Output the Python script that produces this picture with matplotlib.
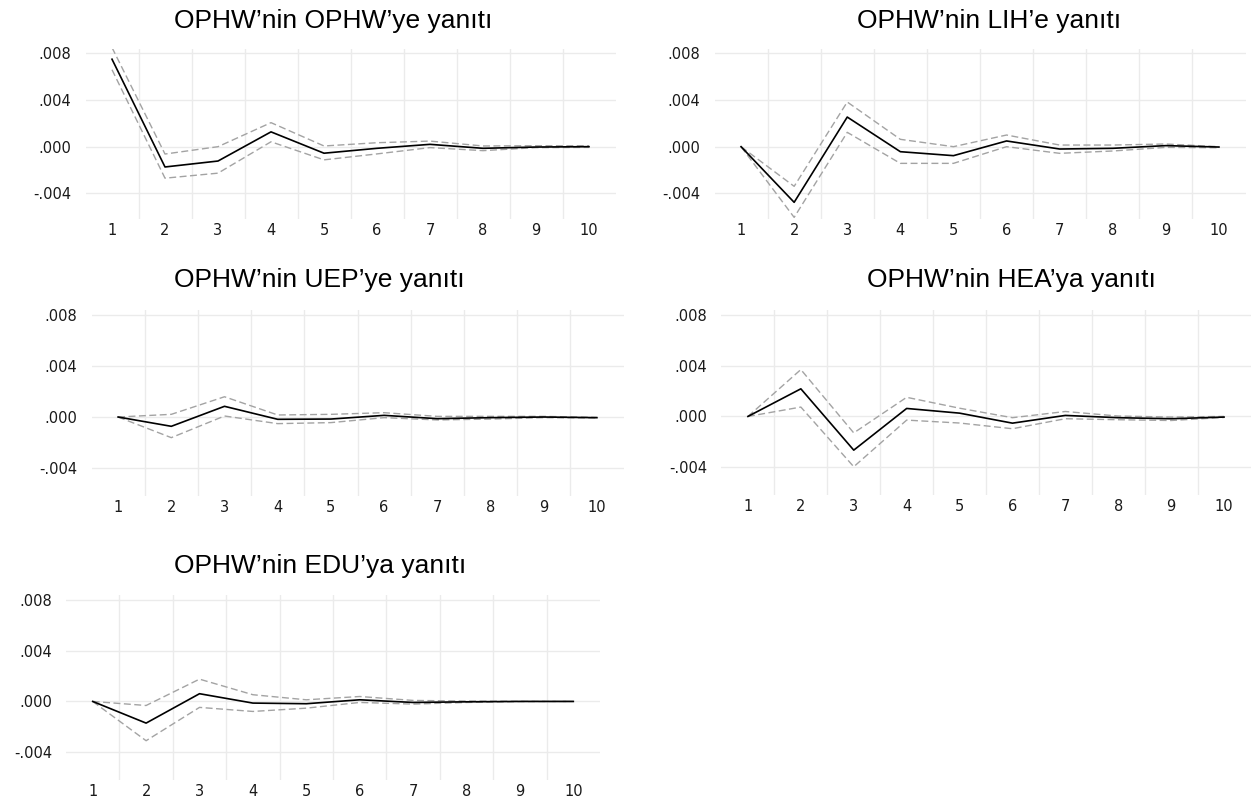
import numpy as np
import matplotlib
matplotlib.use("Agg")
import matplotlib.pyplot as plt

# Impulse-response horizons
periods = [1, 2, 3, 4, 5, 6, 7, 8, 9, 10]

titles = [
    "OPHW\u2019nin OPHW\u2019ye yan\u0131t\u0131",
    "OPHW\u2019nin LIH\u2019e yan\u0131t\u0131",
    "OPHW\u2019nin UEP\u2019ye yan\u0131t\u0131",
    "OPHW\u2019nin HEA\u2019ya yan\u0131t\u0131",
    "OPHW\u2019nin EDU\u2019ya yan\u0131t\u0131",
]

# Responses (point estimate, upper and lower bands)
irf_ophw = [0.0075, -0.00174, -0.00123, 0.00127, -0.00056, -0.00014, 0.00020, -0.00014, -0.00003, 0.00000]
up_ophw = [0.0085, -0.00063, 0.00000, 0.00206, 0.00006, 0.00034, 0.00048, 0.00006, 0.00008, 0.00008]
lo_ophw = [0.0066, -0.00270, -0.00227, 0.00042, -0.00113, -0.00062, -0.00008, -0.00034, -0.00008, -0.00006]

irf_lih = [0.0, -0.00477, 0.00254, -0.00043, -0.00077, 0.00049, -0.00020, -0.00014, 0.00009, -0.00003]
up_lih = [0.0, -0.00340, 0.00383, 0.00063, 0.00000, 0.00100, 0.00014, 0.00014, 0.00023, 0.00000]
lo_lih = [0.0, -0.00606, 0.00123, -0.00143, -0.00143, 0.00000, -0.00057, -0.00037, -0.00006, -0.00009]

irf_uep = [0.0, -0.00073, 0.00084, -0.00018, -0.00016, 0.00013, -0.00013, -0.00005, 0.00000, -0.00005]
up_uep = [0.0, 0.00021, 0.00159, 0.00016, 0.00021, 0.00034, 0.00005, 0.00005, 0.00005, -0.00003]
lo_uep = [0.0, -0.00162, 0.00008, -0.00052, -0.00044, -0.00005, -0.00023, -0.00016, -0.00005, -0.00008]

irf_hea = [0.0, 0.00218, -0.00266, 0.00063, 0.00026, -0.00053, 0.00008, -0.00010, -0.00018, -0.00005]
up_hea = [0.0, 0.00370, -0.00130, 0.00151, 0.00065, -0.00010, 0.00039, 0.00003, -0.00005, 0.00000]
lo_hea = [0.0, 0.00074, -0.00397, -0.00029, -0.00052, -0.00097, -0.00018, -0.00026, -0.00032, -0.00008]

irf_edu = [0.0, -0.00171, 0.00061, -0.00013, -0.00018, 0.00013, -0.00008, -0.00003, 0.00000, 0.00000]
up_edu = [0.0, -0.00032, 0.00176, 0.00053, 0.00013, 0.00039, 0.00008, 0.00003, 0.00001, 0.00000]
lo_edu = [0.0, -0.00310, -0.00047, -0.00079, -0.00053, -0.00008, -0.00021, -0.00008, -0.00001, 0.00000]

yticks = [-0.004, 0.000, 0.004, 0.008]
ytick_labels = ["-.004", ".000", ".004", ".008"]

series = [
    (irf_ophw, up_ophw, lo_ophw),
    (irf_lih, up_lih, lo_lih),
    (irf_uep, up_uep, lo_uep),
    (irf_hea, up_hea, lo_hea),
    (irf_edu, up_edu, lo_edu),
]

W, H = 1252, 802
fig = plt.figure(figsize=(W / 100, H / 100), dpi=100)
fig.patch.set_facecolor("white")

# panel boxes in pixels: left, top, right, bottom
boxes = [
    (85.5, 48.7, 615.5, 219),
    (714.5, 48.7, 1245.5, 219),
    (91.5, 310, 623.5, 496),
    (721.5, 310, 1250.5, 495),
    (66, 595, 600, 780),
]
# title centres in pixels
title_pos = [(333, 21), (989, 21), (319, 280), (1011, 280), (320, 566)]

grid_col = "#ebebeb"
tick_font = dict(family="DejaVu Sans", size=10.5, color="#1a1a1a")

for (l, t, r, b), (irf, up, lo), title, (tx, ty) in zip(boxes, series, titles, title_pos):
    ax = fig.add_axes([l / W, 1 - b / H, (r - l) / W, (b - t) / H])
    ax.set_xlim(0.5, 10.5)
    ax.set_ylim(-0.0062, 0.0084)
    for s in ax.spines.values():
        s.set_visible(False)
    ax.set_yticks(yticks)
    ax.set_yticklabels(ytick_labels, fontdict=tick_font)
    ax.set_xticks(periods)
    ax.set_xticklabels([str(p) for p in periods], fontdict=tick_font)
    ax.set_xticks(np.arange(1.5, 10.0, 1.0), minor=True)
    ax.tick_params(which="both", length=0)
    ax.tick_params(axis="y", pad=10)
    ax.tick_params(axis="x", pad=3)
    ax.grid(axis="y", which="major", color=grid_col, lw=1.0)
    ax.grid(axis="x", which="minor", color=grid_col, lw=1.0)
    ax.set_axisbelow(True)

    ax.plot(periods, up, color="#a3a3a3", lw=1.0, ls=(0, (5, 2.5)))
    ax.plot(periods, lo, color="#a3a3a3", lw=1.0, ls=(0, (5, 2.5)))
    ax.plot(periods, irf, color="black", lw=1.2)

    fig.text(tx / W, 1 - ty / H, title, ha="center", va="center",
             family="Liberation Sans", fontsize=19, color="black")

fig.savefig("out.png", dpi=100, facecolor="white")
